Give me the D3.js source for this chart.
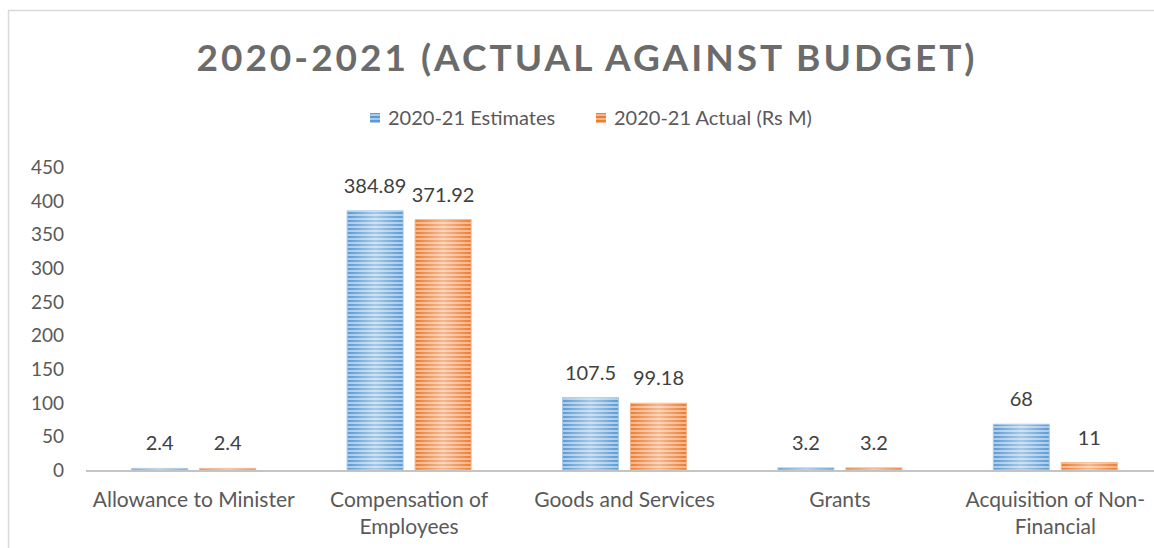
<!DOCTYPE html>
<meta charset="utf-8">
<style>
  body { margin: 0; background: #fff; }
  text { font-family: Lato, "Open Sans", sans-serif; }
</style>
<svg width="1154" height="548"></svg>
<script src="https://cdn.jsdelivr.net/npm/d3@7"></script>
<script>

var categories = [
  ["Allowance to Minister"],
  ["Compensation of", "Employees"],
  ["Goods and Services"],
  ["Grants"],
  ["Acquisition of Non-", "Financial"]
];
var seriesNames = ["2020-21 Estimates", "2020-21 Actual (Rs M)"];
var estimates = [2.4, 384.89, 107.5, 3.2, 68];
var actuals = [2.4, 371.92, 99.18, 3.2, 11];
var yTicks = [0, 50, 100, 150, 200, 250, 300, 350, 400, 450];

var colors = { dark: ["#5b9bd5", "#ed7d31"], light: ["#a9cbea", "#f5b58a"] };

var svg = d3.select("svg");

// chart area border (only top and left visible in the frame)
svg.append("rect")
  .attr("x", 8.5).attr("y", 10.5)
  .attr("width", 1200).attr("height", 600)
  .attr("fill", "none")
  .attr("stroke", "#d9d9d9")
  .attr("stroke-width", 1.5);

var defs = svg.append("defs");
[0, 1].forEach(function(s) {
  var p = defs.append("pattern")
    .attr("id", "stripe" + s)
    .attr("patternUnits", "userSpaceOnUse")
    .attr("width", 8).attr("height", 4);
  p.append("rect").attr("width", 8).attr("height", 4).attr("fill", colors.light[s]);
  p.append("rect").attr("width", 8).attr("height", 2).attr("fill", colors.dark[s]);
});
var g0 = defs.append("linearGradient").attr("id", "shine");
g0.append("stop").attr("offset", "0%").attr("stop-color", "#fff").attr("stop-opacity", 0);
g0.append("stop").attr("offset", "50%").attr("stop-color", "#fff").attr("stop-opacity", 0.45);
g0.append("stop").attr("offset", "100%").attr("stop-color", "#fff").attr("stop-opacity", 0);

var x0 = d3.scaleBand()
  .domain(d3.range(categories.length))
  .range([86, 1163]);

var bw = x0.bandwidth();
var x1 = d3.scaleBand()
  .domain([0, 1])
  .range([bw / 2 - 62, bw / 2 + 62])
  .paddingInner(12 / 68);

var y = d3.scaleLinear()
  .domain([0, 450])
  .range([470, 167]);

// title
svg.append("text")
  .attr("x", 587).attr("y", 71)
  .attr("text-anchor", "middle")
  .attr("fill", "#6b6b6b")
  .style("font-size", "37px")
  .style("font-weight", "bold")
  .style("letter-spacing", "3px")
  .text("2020-2021 (ACTUAL AGAINST BUDGET)");

// legend
var legendX = [370, 596];
seriesNames.forEach(function(name, s) {
  svg.append("rect")
    .attr("x", legendX[s]).attr("y", 113)
    .attr("width", 10).attr("height", 10)
    .attr("fill", "url(#stripe" + s + ")");
  svg.append("text")
    .attr("x", legendX[s] + 18).attr("y", 125)
    .attr("fill", "#595959")
    .style("font-size", "20px")
    .text(name);
});

// y axis labels
var yAxis = svg.append("g")
  .attr("transform", "translate(64,0)")
  .call(d3.axisLeft(y).tickValues(yTicks).tickSize(0).tickPadding(0));
yAxis.select(".domain").remove();
yAxis.selectAll("text")
  .attr("fill", "#595959")
  .attr("dy", "0.35em")
  .style("font-size", "19px")
  .style("font-family", "Lato, 'Open Sans', sans-serif");

// bars
var data = categories.map(function(c, i) {
  return [estimates[i], actuals[i]];
});

var groups = svg.append("g").selectAll("g")
  .data(data)
  .join("g")
  .attr("transform", function(d, i) { return "translate(" + x0(i) + ",0)"; });

groups.selectAll("rect.bar")
  .data(function(d) { return d; })
  .join("rect")
  .attr("class", "bar")
  .attr("x", function(d, s) { return x1(s); })
  .attr("y", function(d) { return y(d); })
  .attr("width", x1.bandwidth())
  .attr("height", function(d) { return y(0) - y(d); })
  .attr("fill", function(d, s) { return "url(#stripe" + s + ")"; })
  .attr("stroke", function(d, s) { return colors.light[s]; })
  .attr("stroke-width", 1);

groups.selectAll("rect.shine")
  .data(function(d) { return d; })
  .join("rect")
  .attr("class", "shine")
  .attr("x", function(d, s) { return x1(s); })
  .attr("y", function(d) { return y(d); })
  .attr("width", x1.bandwidth())
  .attr("height", function(d) { return y(0) - y(d); })
  .attr("fill", "url(#shine)");

groups.selectAll("text.val")
  .data(function(d) { return d; })
  .join("text")
  .attr("class", "val")
  .attr("x", function(d, s) { return x1(s) + x1.bandwidth() / 2; })
  .attr("y", function(d) { return y(d) - 18; })
  .attr("text-anchor", "middle")
  .attr("fill", "#404040")
  .style("font-size", "20px")
  .text(function(d) { return d; });

// x axis line
svg.append("line")
  .attr("x1", 86).attr("x2", 1163)
  .attr("y1", y(0) + 1).attr("y2", y(0) + 1)
  .attr("stroke", "#c4c4c4")
  .attr("stroke-width", 2);

// category labels
categories.forEach(function(lines, i) {
  var t = svg.append("text")
    .attr("x", x0(i) + bw / 2)
    .attr("y", 507)
    .attr("text-anchor", "middle")
    .attr("fill", "#595959")
    .style("font-size", "21px");
  lines.forEach(function(l, k) {
    t.append("tspan")
      .attr("x", x0(i) + bw / 2)
      .attr("dy", k === 0 ? 0 : 27)
      .text(l);
  });
});

</script>
